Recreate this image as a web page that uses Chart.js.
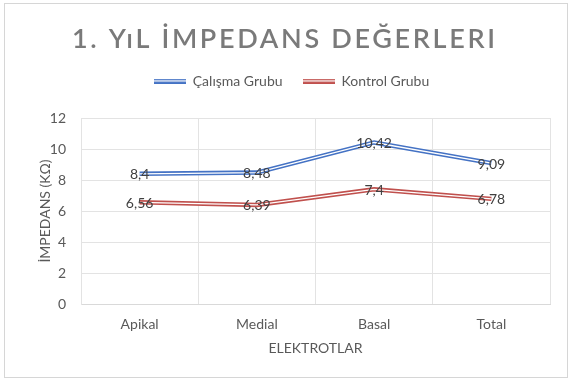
<!DOCTYPE html>
<html><head><meta charset="utf-8">
<script src="https://cdn.jsdelivr.net/npm/chart.js@4"></script>
<style>html,body{margin:0;padding:0;background:#fff}#wrap{width:575px;height:382px;position:relative}</style>
</head><body><div id="wrap"><canvas id="c" width="575" height="382"></canvas></div>
<script>
const chartTitle = '1. YıL İMPEDANS DEĞERLERI';
const categories = ['Apikal', 'Medial', 'Basal', 'Total'];
const calismaGrubu = [8.4, 8.48, 10.42, 9.09];
const kontrolGrubu = [6.56, 6.39, 7.4, 6.78];
const seriesNames = ['Çalışma Grubu', 'Kontrol Grubu'];
const yTicks = [0, 2, 4, 6, 8, 10, 12];
const xAxisTitle = 'ELEKTROTLAR';
const yAxisTitle = 'İMPEDANS (KΩ)';

const BLUE = '#4472C4', RED = '#C0504D';
const FONT = 'Lato, "Open Sans", sans-serif';
const TXT = '#595959';

function legendLine(color) {
  const c = document.createElement('canvas');
  c.width = 32; c.height = 5;
  const x = c.getContext('2d');
  x.fillStyle = color; x.fillRect(0, 0, 32, 5);
  x.fillStyle = '#fff'; x.fillRect(0, 1.7, 32, 1.4);
  return c;
}

const framePlugin = {
  id: 'frame',
  beforeDraw(chart) {
    const ctx = chart.ctx;
    ctx.save();
    ctx.fillStyle = '#fff';
    ctx.fillRect(0, 0, chart.width, chart.height);
    ctx.strokeStyle = '#d6d6d6';
    ctx.lineWidth = 1;
    ctx.strokeRect(4.5, 3.5, 563, 374);
    ctx.font = '600 27px ' + FONT;
    ctx.fillStyle = '#7a7a7a';
    ctx.textBaseline = 'middle';
    const n = [...chartTitle].length;
    const w0 = ctx.measureText(chartTitle).width;
    const ls = Math.max(0, (423 - w0) / (n - 1));
    ctx.letterSpacing = ls + 'px';
    ctx.textAlign = 'left';
    ctx.fillText(chartTitle, 72, 39);
    ctx.restore();
  }
};

const labelPlugin = {
  id: 'vlabels',
  afterDatasetsDraw(chart) {
    const ctx = chart.ctx;
    ctx.save();
    ctx.font = '14px ' + FONT;
    ctx.fillStyle = '#404040';
    ctx.textAlign = 'center';
    ctx.textBaseline = 'middle';
    [0, 1].forEach(di => {
      const meta = chart.getDatasetMeta(di);
      const data = chart.data.datasets[di].data;
      meta.data.forEach((pt, i) => {
        ctx.fillText(String(data[i]).replace('.', ','), pt.x, pt.y + 1);
      });
    });
    ctx.restore();
  }
};

new Chart(document.getElementById('c'), {
  type: 'line',
  data: {
    labels: categories,
    datasets: [
      { label: seriesNames[0], data: calismaGrubu, borderColor: BLUE, backgroundColor: BLUE, borderWidth: 4.4, pointRadius: 0, pointStyle: legendLine(BLUE), order: 2 },
      { label: seriesNames[1], data: kontrolGrubu, borderColor: RED, backgroundColor: RED, borderWidth: 4.4, pointRadius: 0, pointStyle: legendLine(RED), order: 2 },
      { label: '_w1', data: calismaGrubu, borderColor: '#fff', borderWidth: 1.3, pointRadius: 0, order: 1 },
      { label: '_w2', data: kontrolGrubu, borderColor: '#fff', borderWidth: 1.3, pointRadius: 0, order: 1 }
    ]
  },
  options: {
    responsive: false,
    devicePixelRatio: 1,
    animation: false,
    layout: { padding: { top: 54, left: 33, right: 25, bottom: 21 } },
    plugins: {
      title: { display: false },
      subtitle: { display: true, text: '', position: 'top', weight: 500, padding: 0, font: { size: 20, lineHeight: 1 } },
      tooltip: { enabled: false },
      legend: {
        display: true,
        position: 'top',
        labels: {
          filter: item => item.datasetIndex < 2,
          usePointStyle: true,
          pointStyleWidth: 32,
          padding: 20,
          color: TXT,
          font: { family: FONT, size: 14 }
        }
      }
    },
    scales: {
      x: {
        offset: true,
        grid: { offset: true, color: '#e3e3e3', drawTicks: false },
        border: { color: '#d9d9d9' },
        ticks: { color: TXT, font: { family: FONT, size: 14 }, padding: 12 },
        title: { display: true, text: xAxisTitle, color: TXT, font: { family: FONT, size: 14 }, padding: { top: 4, bottom: 4 } },
        afterFit(scale) { scale.height = 57; }
      },
      y: {
        min: 0, max: 12,
        grid: { color: '#e3e3e3', drawTicks: false },
        border: { color: '#e3e3e3' },
        afterBuildTicks(scale) { scale.ticks = yTicks.map(v => ({ value: v })); },
        ticks: { color: TXT, font: { family: FONT, size: 14 }, padding: 15 },
        title: { display: true, text: yAxisTitle, color: TXT, font: { family: FONT, size: 14 }, padding: { top: 4, bottom: 4 } },
        afterFit(scale) { scale.width = 48; }
      }
    }
  },
  plugins: [framePlugin, labelPlugin]
});
</script>
</body></html>
